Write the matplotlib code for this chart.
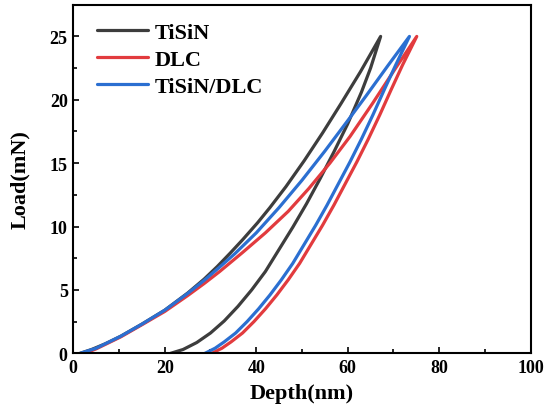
import matplotlib
matplotlib.use("Agg")
import matplotlib.pyplot as plt
from matplotlib.ticker import MultipleLocator

plt.rcParams['font.family'] = ['Liberation Serif', 'DejaVu Serif']
plt.rcParams['font.weight'] = 'bold'

# TiSiN
tisin_load_x = [1.5, 4, 7, 10.4, 15, 20, 25, 28.6, 31.5, 34.3, 37, 40.3, 43, 46.5, 50.5, 54.5, 58.5, 62.8, 67.2]
tisin_load_y = [0, 0.3, 0.75, 1.35, 2.3, 3.4, 4.75, 5.85, 6.85, 7.9, 8.95, 10.3, 11.5, 13.15, 15.2, 17.38, 19.68, 22.22, 25.0]
tisin_unload_x = [67.2, 65, 63, 60, 57, 54, 51, 48, 45, 42, 39, 36, 33, 30, 27, 24, 21.3]
tisin_unload_y = [25.0, 22.5, 20.6, 18.1, 15.9, 13.8, 11.8, 9.95, 8.2, 6.45, 5.0, 3.7, 2.55, 1.6, 0.85, 0.3, 0]

# DLC
dlc_load_x = [2.5, 5, 10.4, 15, 20, 25, 28.6, 32, 37, 42, 47, 51.5, 56.1, 60.5, 65.5, 70.3, 75.1]
dlc_load_y = [0, 0.35, 1.3, 2.25, 3.3, 4.55, 5.5, 6.45, 7.95, 9.5, 11.2, 13.0, 15.0, 17.1, 19.75, 22.4, 25.0]
dlc_unload_x = [75.1, 72, 69.5, 67, 64.5, 62, 59.5, 57, 54.5, 52, 49.5, 47, 44.5, 42, 39.5, 37, 34.5, 32.5, 30.3]
dlc_unload_y = [25.0, 22.75, 20.8, 18.8, 16.9, 15.1, 13.4, 11.7, 10.1, 8.6, 7.1, 5.8, 4.6, 3.5, 2.5, 1.6, 0.9, 0.4, 0]

# TiSiN/DLC
multi_load_x = [1.5, 5, 10.4, 15, 20, 25, 28.6, 32, 35.3, 40, 45, 50, 55, 60, 64, 68.8, 73.5]
multi_load_y = [0, 0.4, 1.35, 2.3, 3.4, 4.72, 5.75, 6.8, 7.85, 9.5, 11.5, 13.65, 15.95, 18.35, 20.3, 22.7, 25.0]
multi_unload_x = [73.5, 70.5, 68, 65.5, 63, 60.5, 58, 55.5, 53, 50.5, 48, 45.5, 43, 40.5, 38, 35.5, 33, 31, 28.8]
multi_unload_y = [25.0, 22.75, 20.8, 18.8, 16.9, 15.1, 13.4, 11.7, 10.1, 8.6, 7.1, 5.8, 4.6, 3.5, 2.5, 1.6, 0.9, 0.4, 0]

labels = ['TiSiN', 'DLC', 'TiSiN/DLC']
colors = ['#3d3d3d', '#e23b3e', '#2b6fd1']

fig = plt.figure(figsize=(5.46, 4.14), dpi=100)
ax = fig.add_axes([0.1342, 0.1442, 0.8377, 0.842])

series = [
    (tisin_load_x + tisin_unload_x[1:], tisin_load_y + tisin_unload_y[1:]),
    (dlc_load_x + dlc_unload_x[1:], dlc_load_y + dlc_unload_y[1:]),
    (multi_load_x + multi_unload_x[1:], multi_load_y + multi_unload_y[1:]),
]
for (xs, ys), lab, c in zip(series, labels, colors):
    ax.plot(xs, ys, color=c, lw=2.3, label=lab, solid_joinstyle='round', solid_capstyle='round')

ax.set_xlim(0, 100)
ax.set_ylim(0, 27.5)
ax.xaxis.set_major_locator(MultipleLocator(20))
ax.xaxis.set_minor_locator(MultipleLocator(10))
ax.yaxis.set_major_locator(MultipleLocator(5))
ax.yaxis.set_minor_locator(MultipleLocator(2.5))
ax.tick_params(which='both', direction='in', top=False, right=False, width=1.2, labelsize=13, pad=4)
ax.tick_params(which='major', length=4)
ax.tick_params(which='minor', length=3)
for s in ax.spines.values():
    s.set_linewidth(1.5)

ax.set_xlabel('Depth(nm)', fontsize=16, fontweight='bold')
ax.set_ylabel('Load(mN)', fontsize=16, fontweight='bold')
ax.xaxis.set_label_coords(0.5, -0.085)
ax.yaxis.set_label_coords(-0.095, 0.5)

ax.legend(loc='upper left', bbox_to_anchor=(0.052, 0.95), frameon=False,
          prop={'size': 16, 'weight': 'bold'}, borderpad=0, borderaxespad=0,
          handlelength=2.3, handletextpad=0.3, labelspacing=0.3)

fig.savefig('out.png', dpi=100)
